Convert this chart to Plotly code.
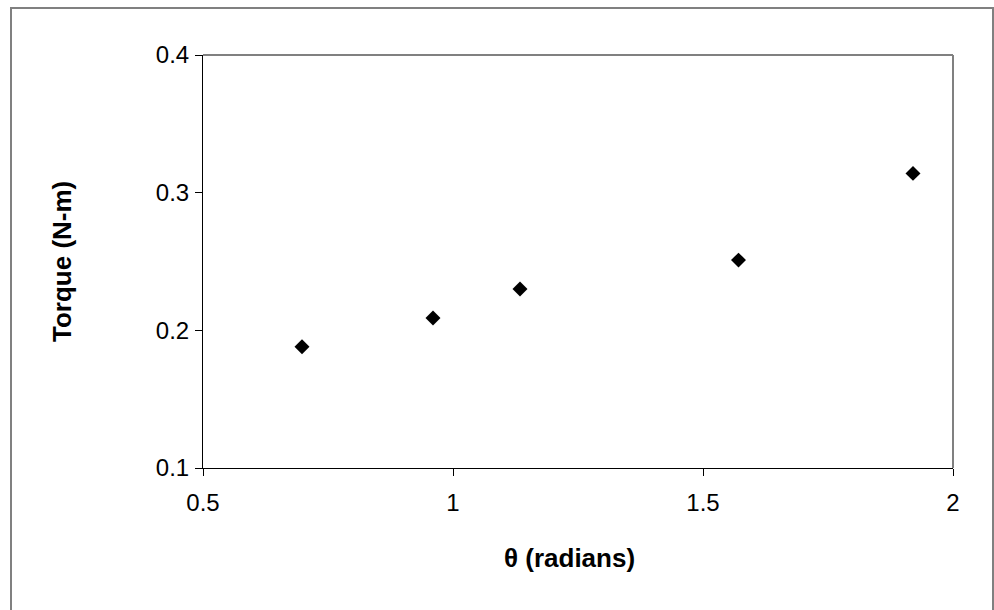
import plotly.graph_objects as go

theta = [0.698, 0.960, 1.134, 1.571, 1.920]
torque = [0.188, 0.209, 0.230, 0.251, 0.314]
x_ticks = [0.5, 1, 1.5, 2]
x_tick_labels = ["0.5", "1", "1.5", "2"]
y_ticks = [0.1, 0.2, 0.3, 0.4]
y_tick_labels = ["0.1", "0.2", "0.3", "0.4"]

L, R, T, B = 203, 41, 55, 142
W, H = 994, 610
pw, ph = W - L - R, H - T - B

def px_x(p):
    return (p - L) / pw

def px_y(p):
    return (H - B - p) / ph

font = "Liberation Sans, Arial, sans-serif"

fig = go.Figure()
fig.add_trace(go.Scatter(
    x=theta, y=torque, mode="markers",
    marker=dict(symbol="diamond", size=11.5, color="black"),
    showlegend=False, cliponaxis=False,
))

fig.update_layout(
    width=W, height=H,
    margin=dict(l=L, r=R, t=T, b=B),
    paper_bgcolor="white", plot_bgcolor="white",
    font=dict(family=font, size=24, color="black"),
    xaxis=dict(
        range=[0.5, 2], tickvals=x_ticks, ticktext=x_tick_labels,
        showgrid=False, zeroline=False,
        showline=True, linecolor="black", linewidth=1,
        ticks="outside", ticklen=7, tickcolor="black", tickwidth=1,
        tickfont=dict(size=24), ticklabelstandoff=6,
    ),
    yaxis=dict(
        range=[0.1, 0.4], tickvals=y_ticks, ticktext=y_tick_labels,
        showgrid=False, zeroline=False,
        showline=True, linecolor="black", linewidth=1,
        ticks="outside", ticklen=7, tickcolor="black", tickwidth=1,
        tickfont=dict(size=24), ticklabelstandoff=1,
    ),
    annotations=[
        dict(text="<b>θ (radians)</b>", xref="paper", yref="paper",
             x=px_x(569), y=px_y(558), xanchor="center", yanchor="middle",
             showarrow=False, font=dict(size=26)),
        dict(text="<b>Torque (N-m)</b>", xref="paper", yref="paper",
             x=px_x(62), y=px_y(262), xanchor="center", yanchor="middle",
             textangle=-90, showarrow=False, font=dict(size=26)),
    ],
    shapes=[
        dict(type="line", xref="paper", yref="paper", x0=0, x1=1, y0=1, y1=1,
             line=dict(color="#808080", width=2), layer="below"),
        dict(type="line", xref="paper", yref="paper", x0=1, x1=1, y0=0, y1=1,
             line=dict(color="#808080", width=2), layer="below"),
        dict(type="rect", xref="paper", yref="paper",
             x0=px_x(11), x1=px_x(993), y0=px_y(614), y1=px_y(8),
             line=dict(color="#808080", width=2), fillcolor="rgba(0,0,0,0)", layer="below"),
    ],
)

fig.write_html("out.html")
